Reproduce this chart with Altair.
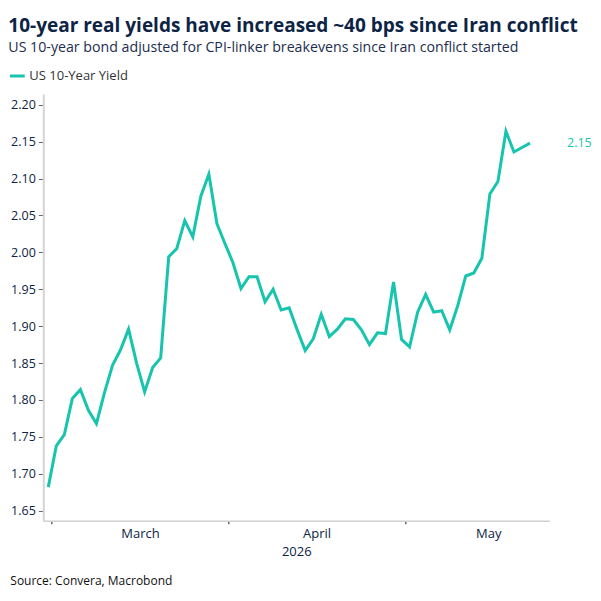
import altair as alt
import pandas as pd

# US 10-year real yield, business days from 27 Feb 2026
dates = pd.bdate_range("2026-02-27", "2026-05-22").strftime("%Y-%m-%d").tolist()
yields = [
    1.682, 1.738, 1.753, 1.802, 1.814, 1.786, 1.768, 1.810, 1.847, 1.868,
    1.896, 1.850, 1.811, 1.844, 1.857, 1.994, 2.005, 2.043, 2.021, 2.076,
    2.106, 2.039, 2.012, 1.986, 1.951, 1.967, 1.967, 1.933, 1.950, 1.922,
    1.925, 1.895, 1.867, 1.883, 1.916, 1.886, 1.896, 1.910, 1.909, 1.895,
    1.875, 1.891, 1.890, 1.960, 1.882, 1.872, 1.919, 1.943, 1.919, 1.921,
    1.895, 1.928, 1.968, 1.972, 1.992, 2.079, 2.096, 2.164, 2.136, 2.142,
    2.148,
]
series_name = "US 10-Year Yield"

# month boundaries and month-label positions on the business-day index
month_ticks = [0.42, 22.42, 44.42]
month_labels = {11.42: "March", 33.42: "April", 54.8: "May"}
y_ticks = [1.65, 1.70, 1.75, 1.80, 1.85, 1.90, 1.95, 2.00, 2.05, 2.10, 2.15, 2.20]

TEAL = "#17c4ae"
NAVY = "#0d2445"
FONT = "Open Sans"

df = pd.DataFrame({
    "date": dates,
    "obs": list(range(len(dates))),
    "value": yields,
    "series": series_name,
})
last = df.tail(1)

x_values = sorted(month_ticks + list(month_labels.keys()))
label_expr = " : ".join(
    f"datum.value == {k} ? '{v}'" for k, v in month_labels.items()
) + " : ''"
tick_test = " || ".join(f"datum.value == {t}" for t in month_ticks)

W, H = 506, 426.7

x_enc = alt.X(
    "obs:Q",
    scale=alt.Scale(domain=[-0.62, 62.4], nice=False, zero=False),
    axis=alt.Axis(
        values=x_values,
        labelExpr=label_expr,
        labelOverlap=False,
        tickOpacity={"condition": {"test": tick_test, "value": 1}, "value": 0},
        tickSize=3,
        tickWidth=1.5,
        tickColor="#666666",
        labelPadding=4,
        labelFontSize=13,
        labelColor=NAVY,
        labelFont=FONT,
        domainColor="#cfcfcf",
        domainWidth=1.5,
        grid=False,
        title="2026",
        titleFontSize=13,
        titleFontWeight="normal",
        titleColor=NAVY,
        titleFont=FONT,
        titlePadding=5,
    ),
)

y_enc = alt.Y(
    "value:Q",
    scale=alt.Scale(domain=[1.6365, 2.2145], nice=False, zero=False),
    axis=alt.Axis(
        values=y_ticks,
        format=".2f",
        labelOverlap=False,
        labelBound=False,
        tickSize=5,
        tickColor="#666666",
        labelPadding=3,
        labelFontSize=12.5,
        labelColor=NAVY,
        labelFont=FONT,
        domainColor="#d3d3d3",
        domainWidth=2,
        grid=False,
        title=None,
    ),
)

line = alt.Chart(df).mark_line(strokeWidth=3, strokeJoin="miter").encode(
    x=x_enc,
    y=y_enc,
    color=alt.Color(
        "series:N",
        scale=alt.Scale(domain=[series_name], range=[TEAL]),
        legend=alt.Legend(
            title=None,
            orient="none",
            legendX=-35,
            legendY=-27,
            padding=0,
            symbolType="stroke",
            symbolStrokeWidth=3,
            symbolSize=220,
            labelFontSize=13,
            labelColor="#333333",
            labelFont=FONT,
            labelOffset=3,
        ),
    ),
)

# latest value printed beside the end of the line
end_label = alt.Chart(last).mark_text(
    align="left", baseline="middle", dx=37, fontSize=12.5, font=FONT, color=TEAL
).encode(
    x=x_enc,
    y=y_enc,
    text=alt.Text("value:Q", format=".2f"),
)

source = alt.Chart(pd.DataFrame({"t": ["Source: Convera, Macrobond"]})).mark_text(
    align="left", baseline="middle", fontSize=12, font=FONT, color="#111111"
).encode(
    x=alt.value(-33),
    y=alt.value(486.7),
    text="t:N",
)

chart = alt.layer(line, end_label, source).properties(
    width=W,
    height=H,
    background="white",
    title=alt.TitleParams(
        text="10-year real yields have increased ~40 bps since Iran conflict",
        subtitle="US 10-year bond adjusted for CPI-linker breakevens since Iran conflict started",
        anchor="start",
        frame="group",
        dx=-35,
        offset=12,
        font=FONT,
        fontSize=19,
        fontWeight="bold",
        color=NAVY,
        subtitleFont=FONT,
        subtitleFontSize=14.2,
        subtitleColor="#1c2e4e",
        subtitlePadding=5,
    ),
    autosize=alt.AutoSizeParams(type="none"),
    padding={"left": 43.3, "top": 94, "right": 51.7, "bottom": 80.3},
).configure_view(strokeWidth=0, stroke=None)

chart.save("out.html", embed_options={"renderer": "svg", "actions": False})
